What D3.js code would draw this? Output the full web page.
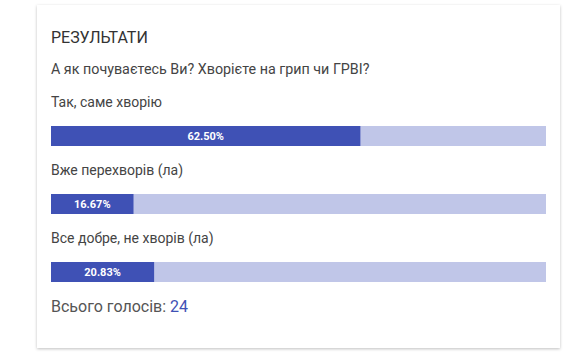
<!DOCTYPE html>
<html>
<head>
<meta charset="utf-8">
<script src="https://cdn.jsdelivr.net/npm/d3@7"></script>
<style>
  body { margin: 0; background: #fff; }
  svg { display: block; font-family: Roboto, "Noto Sans", sans-serif; }
</style>
</head>
<body>
<svg id="chart" width="577" height="358"></svg>
<script>
// poll results
const title = "РЕЗУЛЬТАТИ";
const question = "А як почуваєтесь Ви? Хворієте на грип чи ГРВІ?";
const answers = ["Так, саме хворію", "Вже перехворів (ла)", "Все добре, не хворів (ла)"];
const votes = [15, 4, 5];
const totalLabel = "Всього голосів: ";

const total = d3.sum(votes);
const svg = d3.select("#chart");

// card with soft shadow
const defs = svg.append("defs");
const f = defs.append("filter").attr("id", "shadow")
    .attr("x", "-5%").attr("y", "-5%").attr("width", "110%").attr("height", "110%");
f.append("feDropShadow").attr("dx", 0).attr("dy", 1).attr("stdDeviation", 1.5)
    .attr("flood-color", "#000").attr("flood-opacity", 0.25);

svg.append("rect")
    .attr("x", 37).attr("y", 5).attr("width", 523).attr("height", 343)
    .attr("fill", "#fff").attr("filter", "url(#shadow)");

const left = 51, right = 546;
const x = d3.scaleLinear().domain([0, 1]).range([left, right]);

svg.append("text").attr("x", left).attr("y", 43)
    .attr("font-size", 16).attr("fill", "#333").text(title);
svg.append("text").attr("x", left).attr("y", 74)
    .attr("font-size", 14.3).attr("fill", "#444").text(question);

const y = d3.scalePoint().domain(answers).range([107, 243]);

const g = svg.selectAll(".answer").data(answers).enter().append("g")
    .attr("transform", d => `translate(0,${y(d)})`);

g.append("text").attr("x", left).attr("y", 0)
    .attr("font-size", 14).attr("fill", "#444").text(d => d);

g.append("rect").attr("x", x(0)).attr("y", 19)
    .attr("width", x(1) - x(0)).attr("height", 20).attr("fill", "#c0c6e8");

g.append("rect").attr("x", x(0)).attr("y", 19)
    .attr("width", (d, i) => x(votes[i] / total) - x(0)).attr("height", 20)
    .attr("fill", "#3f51b5");

g.append("text")
    .attr("x", (d, i) => (x(0) + x(votes[i] / total)) / 2)
    .attr("y", 33)
    .attr("text-anchor", "middle")
    .attr("font-size", 11).attr("font-weight", "bold").attr("fill", "#fff")
    .text((d, i) => (votes[i] / total * 100).toFixed(2) + "%");

const t = svg.append("text").attr("x", left).attr("y", 312)
    .attr("font-size", 16).attr("fill", "#555");
t.append("tspan").text(totalLabel);
t.append("tspan").attr("fill", "#3f51b5").text(total);
</script>
</body>
</html>
